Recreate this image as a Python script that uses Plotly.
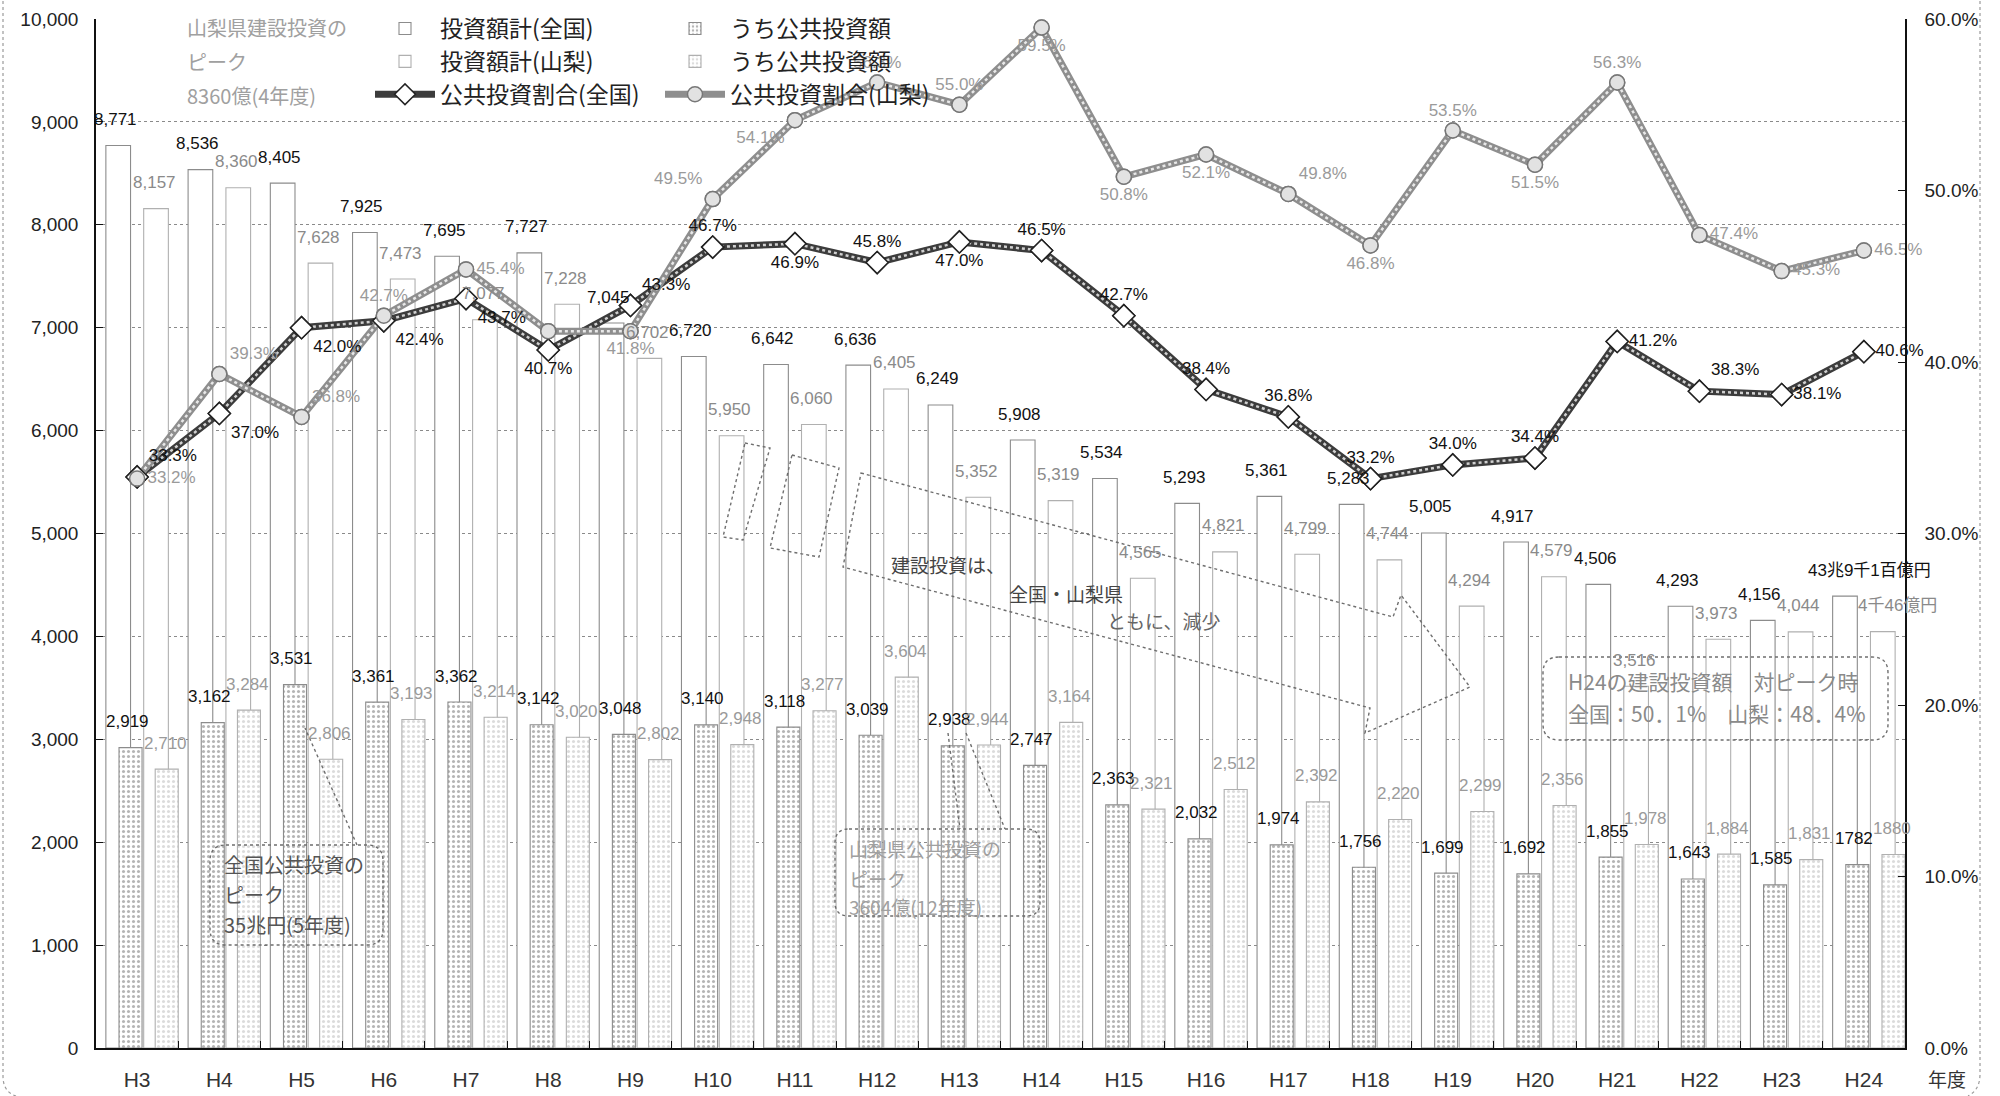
import plotly.graph_objects as go

# 年度
years = ["H3", "H4", "H5", "H6", "H7", "H8", "H9", "H10", "H11", "H12", "H13",
         "H14", "H15", "H16", "H17", "H18", "H19", "H20", "H21", "H22", "H23", "H24"]

# 建設投資額（全国：百億円、山梨：億円）
nat_total = [8771, 8536, 8405, 7925, 7695, 7727, 7045, 6720, 6642, 6636, 6249,
             5908, 5534, 5293, 5361, 5283, 5005, 4917, 4506, 4293, 4156, 4391]
nat_public = [2919, 3162, 3531, 3361, 3362, 3142, 3048, 3140, 3118, 3039, 2938,
              2747, 2363, 2032, 1974, 1756, 1699, 1692, 1855, 1643, 1585, 1782]
yam_total = [8157, 8360, 7628, 7473, 7077, 7228, 6702, 5950, 6060, 6405, 5352,
             5319, 4565, 4821, 4799, 4744, 4294, 4579, 3516, 3973, 4044, 4046]
yam_public = [2710, 3284, 2806, 3193, 3214, 3020, 2802, 2948, 3277, 3604, 2944,
              3164, 2321, 2512, 2392, 2220, 2299, 2356, 1978, 1884, 1831, 1880]

# 公共投資割合（%）
nat_ratio = [33.3, 37.0, 42.0, 42.4, 43.7, 40.7, 43.3, 46.7, 46.9, 45.8, 47.0,
             46.5, 42.7, 38.4, 36.8, 33.2, 34.0, 34.4, 41.2, 38.3, 38.1, 40.6]
yam_ratio = [33.2, 39.3, 36.8, 42.7, 45.4, 41.8, 41.8, 49.5, 54.1, 56.3, 55.0,
             59.5, 50.8, 52.1, 49.8, 46.8, 53.5, 51.5, 56.3, 47.4, 45.3, 46.5]

# value labels (H24 totals are written out in words)
nat_total_labels = [f"{v:,}" for v in nat_total[:-1]] + ["43兆9千1百億円"]
nat_public_labels = [f"{v:,}" for v in nat_public[:-1]] + ["1782"]
yam_total_labels = [f"{v:,}" for v in yam_total[:-1]] + ["4千46億円"]
yam_public_labels = [f"{v:,}" for v in yam_public[:-1]] + ["1880"]
nat_ratio_labels = [f"{v:.1f}%" for v in nat_ratio]
yam_ratio_labels = [f"{v:.1f}%" for v in yam_ratio]
yam_ratio_labels[5] = ""

nat_pos = ["top right", "bottom right", "bottom right", "bottom right", "bottom right",
           "bottom center", "top right", "top center", "bottom center", "top center",
           "bottom center", "top center", "top center", "top center", "top center",
           "top center", "top center", "top center", "middle right", "top right",
           "middle right", "middle right"]
yam_pos = ["middle right", "top right", "top right", "top center", "middle right",
           "bottom center", "bottom center", "top left", "bottom left", "top center",
           "top center", "bottom center", "bottom center", "bottom center", "top right",
           "bottom center", "top center", "bottom center", "top center", "middle right",
           "middle right", "middle right"]

# plot area in pixels
PL, PT, PW, PH = 96, 19, 1809, 1029


def fx(x):
    return (x - PL) / PW


def fy(y):
    return (PT + PH - y) / PH


def P(x, y):
    return f"{fx(x):.5f},{fy(y):.5f}"


def poly(points, closed=True):
    s = "M " + " L ".join(P(x, y) for x, y in points)
    return s + (" Z" if closed else "")


def rrect(x0, y0, x1, y1, r):
    return (f"M {P(x0 + r, y0)} L {P(x1 - r, y0)} Q {P(x1, y0)} {P(x1, y0 + r)} "
            f"L {P(x1, y1 - r)} Q {P(x1, y1)} {P(x1 - r, y1)} L {P(x0 + r, y1)} "
            f"Q {P(x0, y1)} {P(x0, y1 - r)} L {P(x0, y0 + r)} Q {P(x0, y0)} {P(x0 + r, y0)} Z")


FONT = "Liberation Sans, Noto Sans CJK JP, sans-serif"
JFONT = "Noto Sans CJK JP, sans-serif"

fig = go.Figure()

# bars: totals first, public investment drawn over them
fig.add_trace(go.Bar(
    x=years, y=nat_total, name="投資額計(全国)", offset=-0.38, width=0.30,
    marker=dict(color="white", line=dict(color="#8c8c8c", width=1.1)),
    legend="legend", hoverinfo="skip"))
fig.add_trace(go.Bar(
    x=years, y=yam_total, name="投資額計(山梨)", offset=0.08, width=0.30,
    marker=dict(color="white", line=dict(color="#b0b0b0", width=1.1)),
    legend="legend", hoverinfo="skip"))
fig.add_trace(go.Bar(
    x=years, y=nat_public, name="うち公共投資額", offset=-0.22, width=0.28,
    marker=dict(color="white", line=dict(color="#8c8c8c", width=1.1),
                pattern=dict(shape=".", fgcolor="#6a6a6a", bgcolor="white", size=5, solidity=0.3)),
    legend="legend2", hoverinfo="skip"))
fig.add_trace(go.Bar(
    x=years, y=yam_public, name="うち公共投資額", offset=0.22, width=0.28,
    marker=dict(color="white", line=dict(color="#b0b0b0", width=1.1),
                pattern=dict(shape=".", fgcolor="#b8b8b8", bgcolor="white", size=5, solidity=0.3)),
    legend="legend2", hoverinfo="skip"))

# ratio lines: dark rope with a light dotted core
nat_marker = dict(symbol="diamond", size=17, color="white", line=dict(color="#222", width=1.5))
yam_marker = dict(symbol="circle", size=15, color="#e2e2e2", line=dict(color="#777", width=1.5))

fig.add_trace(go.Scatter(
    x=years, y=nat_ratio, yaxis="y2", mode="lines+markers", name="公共投資割合(全国)",
    line=dict(color="#3c3c3c", width=7), marker=nat_marker, legend="legend", hoverinfo="skip"))
fig.add_trace(go.Scatter(
    x=years, y=nat_ratio, yaxis="y2", mode="lines", showlegend=False,
    line=dict(color="#d0d0d0", width=2.5, dash="dot"), hoverinfo="skip"))
fig.add_trace(go.Scatter(
    x=years, y=yam_ratio, yaxis="y2", mode="lines+markers", name="公共投資割合(山梨)",
    line=dict(color="#8e8e8e", width=7), marker=yam_marker, legend="legend2", hoverinfo="skip"))
fig.add_trace(go.Scatter(
    x=years, y=yam_ratio, yaxis="y2", mode="lines", showlegend=False,
    line=dict(color="#e8e8e8", width=2.5, dash="dot"), hoverinfo="skip"))
fig.add_trace(go.Scatter(
    x=years, y=nat_ratio, yaxis="y2", mode="markers+text", showlegend=False,
    marker=nat_marker, text=nat_ratio_labels, textposition=nat_pos, cliponaxis=False,
    textfont=dict(family=FONT, size=17, color="#111"), hoverinfo="skip"))
fig.add_trace(go.Scatter(
    x=years, y=yam_ratio, yaxis="y2", mode="markers+text", showlegend=False,
    marker=yam_marker, text=yam_ratio_labels, textposition=yam_pos, cliponaxis=False,
    textfont=dict(family=FONT, size=17, color="#9a9a9a"), hoverinfo="skip"))

# value labels above the bars
ann = []


def add_labels(values, labels, dx, color, dy=26, size=17):
    for i, (v, t) in enumerate(zip(values, labels)):
        shift = dx[i] if isinstance(dx, list) else dx
        ann.append(dict(x=years[i], y=v, xref="x", yref="y", text=t, showarrow=False,
                        xshift=shift, yshift=dy, xanchor="center", yanchor="middle",
                        font=dict(family=FONT, size=size, color=color)))


add_labels(nat_total, nat_total_labels, [-22] * 21 + [6], "#111")
add_labels(yam_total, yam_total_labels, [17] * 21 + [34], "#8a8a8a")
add_labels(nat_public, nat_public_labels, -10, "#111")
add_labels(yam_public, yam_public_labels, 28, "#9a9a9a")


def note(x, y, text, size=20, color="#555", anchor="left"):
    ann.append(dict(x=fx(x), y=fy(y), xref="paper", yref="paper", text=text,
                    showarrow=False, xanchor=anchor, yanchor="middle",
                    font=dict(family=JFONT, size=size, color=color)))


for yy, t in zip([28, 61, 96], ["山梨県建設投資の", "ピーク", "8360億(4年度)"]):
    note(185, yy, t, 20, "#a0a0a0")
for yy, t in zip([864, 894, 924], ["全国公共投資の", "ピーク", "35兆円(5年度)"]):
    note(222, yy, t, 20, "#555")
for yy, t in zip([848, 878, 906], ["山梨県公共投資の", "ピーク", "3604億(12年度)"]):
    note(847, yy, t, 19, "#a0a0a0")
note(1566, 681, "H24の建設投資額　対ピーク時", 21, "#8a8a8a")
note(1566, 713, "全国：50．1%　山梨：48．4%", 21, "#8a8a8a")
note(948, 565, "建設投資は、", 19, "#444", "center")
note(1066, 593, "全国・山梨県", 19, "#444", "center")
note(1163, 620, "ともに、減少", 19, "#666", "center")
note(1947, 1078, "年度", 19, "#333", "center")

DOT = dict(color="#6e6e6e", width=1.4, dash="dot")
shapes = [
    # outer frame sides
    dict(type="path", xref="paper", yref="paper", layer="above",
         path=f"M {P(3, -5)} L {P(3, 1076)} Q {P(3, 1092)} {P(16, 1096)}",
         line=dict(color="#9a9a9a", width=1.2, dash="dot")),
    dict(type="path", xref="paper", yref="paper", layer="above",
         path=f"M {P(1980, -5)} L {P(1980, 1074)} Q {P(1980, 1090)} {P(1968, 1096)}",
         line=dict(color="#9a9a9a", width=1.2, dash="dot")),
    # callout boxes
    dict(type="path", xref="paper", yref="paper", layer="above",
         path=rrect(210, 845, 383, 945, 16), line=DOT),
    dict(type="path", xref="paper", yref="paper", layer="above",
         path=poly([(357, 845), (305, 728)], closed=False), line=DOT),
    dict(type="path", xref="paper", yref="paper", layer="above",
         path=rrect(835, 829, 1040, 916, 14), line=DOT),
    dict(type="path", xref="paper", yref="paper", layer="above",
         path=poly([(948, 733), (960, 829)], closed=False), line=DOT),
    dict(type="path", xref="paper", yref="paper", layer="above",
         path=poly([(966, 733), (1005, 829)], closed=False), line=DOT),
    dict(type="path", xref="paper", yref="paper", layer="above",
         path=rrect(1543, 657, 1888, 740, 16), line=DOT),
    # striped arrow
    dict(type="path", xref="paper", yref="paper", layer="above",
         path=poly([(745, 443), (770, 448), (743, 540), (723, 537)]), line=DOT),
    dict(type="path", xref="paper", yref="paper", layer="above",
         path=poly([(792, 455), (839, 468), (819, 557), (770, 548)]), line=DOT),
    dict(type="path", xref="paper", yref="paper", layer="above",
         path=poly([(861, 473), (1393, 617), (1401, 595), (1470, 687),
                    (1365, 733), (1370, 708), (843, 567)]), line=DOT),
]

fig.update_layout(
    width=2000, height=1096,
    margin=dict(l=PL, r=2000 - PL - PW, t=PT, b=1096 - PT - PH, autoexpand=False),
    barmode="overlay",
    paper_bgcolor="white", plot_bgcolor="white",
    font=dict(family=FONT, size=17, color="#222"),
    xaxis=dict(type="category", range=[-0.5, 21.5], showline=True, linecolor="#111",
               linewidth=1.5, ticks="inside", tickson="boundaries", ticklen=7,
               tickcolor="#111", showgrid=False, ticklabelstandoff=12,
               tickfont=dict(family=FONT, size=21, color="#333")),
    yaxis=dict(range=[0, 10000], dtick=1000, tickformat=",d", showline=True,
               linecolor="#111", linewidth=1.5, ticks="inside", ticklen=7,
               tickcolor="#111", gridcolor="#8a8a8a", griddash="dot", gridwidth=1,
               zeroline=False, ticklabelstandoff=12,
               tickfont=dict(family=FONT, size=19, color="#222")),
    yaxis2=dict(range=[0, 60], dtick=10, tickformat=".1f", ticksuffix="%",
                overlaying="y", side="right", showline=True, linecolor="#111",
                linewidth=1.5, ticks="inside", ticklen=7, tickcolor="#111",
                showgrid=False, zeroline=False, ticklabelstandoff=14,
                tickfont=dict(family=FONT, size=19, color="#222")),
    legend=dict(x=fx(370), y=fy(7), xanchor="left", yanchor="top",
                bgcolor="rgba(0,0,0,0)", itemwidth=60, traceorder="normal",
                font=dict(family=JFONT, size=23, color="#222")),
    legend2=dict(x=fx(660), y=fy(7), xanchor="left", yanchor="top",
                 bgcolor="rgba(0,0,0,0)", itemwidth=60, traceorder="normal",
                 font=dict(family=JFONT, size=23, color="#222")),
    annotations=ann,
    shapes=shapes,
    hovermode=False,
)

fig.write_html("out.html")
